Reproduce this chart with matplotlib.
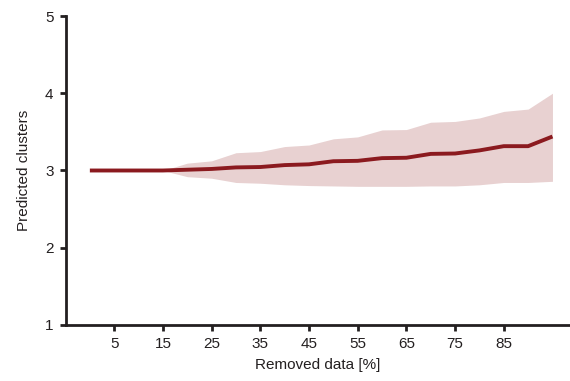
import matplotlib
matplotlib.use("Agg")
import matplotlib.pyplot as plt

removed = [0, 5, 10, 15, 20, 25, 30, 35, 40, 45, 50, 55, 60, 65, 70, 75, 80, 85, 90, 95]
mean_clusters = [3.0, 3.0, 3.0, 3.0, 3.01, 3.02, 3.04, 3.045, 3.07, 3.08, 3.12, 3.125,
                 3.16, 3.165, 3.215, 3.22, 3.26, 3.315, 3.315, 3.44]
upper = [3.0, 3.0, 3.0, 3.0, 3.095, 3.125, 3.23, 3.245, 3.31, 3.33, 3.41, 3.435,
         3.525, 3.53, 3.625, 3.635, 3.68, 3.765, 3.795, 4.0]
lower = [3.0, 3.0, 3.0, 3.0, 2.92, 2.90, 2.845, 2.835, 2.815, 2.805, 2.80, 2.795,
         2.795, 2.795, 2.80, 2.80, 2.815, 2.845, 2.845, 2.86]
xticks = [5, 15, 25, 35, 45, 55, 65, 75, 85]
yticks = [1, 2, 3, 4, 5]

plt.rcParams['font.family'] = ['Liberation Sans', 'DejaVu Sans']

fig = plt.figure(figsize=(5.7, 3.81), dpi=100)
ax = fig.add_axes([0.1158, 0.147, 0.8842, 0.811])

ax.fill_between(removed, lower, upper, color='#e8d1d1', linewidth=0)
ax.plot(removed, mean_clusters, color='#8b1a1f', linewidth=2.8, solid_capstyle='butt')

ax.set_xlim(-4.9, 98.6)
ax.set_ylim(1, 5)
ax.set_xticks(xticks)
ax.set_yticks(yticks)
ax.spines['top'].set_visible(False)
ax.spines['right'].set_visible(False)
for s in ('left', 'bottom'):
    ax.spines[s].set_linewidth(2.0)
    ax.spines[s].set_color('#231f20')
ax.tick_params(direction='out', length=4, width=2.0, color='#231f20',
               labelsize=11, labelcolor='#231f20', pad=5)
ax.set_xlabel('Removed data [%]', fontsize=11, color='#231f20', labelpad=5)
ax.set_ylabel('Predicted clusters', fontsize=11, color='#231f20', labelpad=10)

fig.savefig('out.png', dpi=100)
